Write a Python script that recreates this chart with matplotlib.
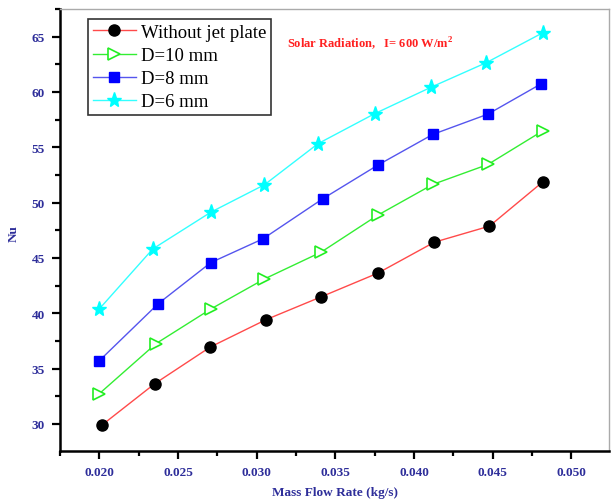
import matplotlib
matplotlib.use("Agg")
import matplotlib.pyplot as plt
from matplotlib.ticker import MultipleLocator, FormatStrFormatter

# Data
x_without = [0.0202, 0.02352, 0.02706, 0.0306, 0.0341, 0.0377, 0.0413, 0.0448, 0.0482]
nu_without = [29.94, 33.64, 36.96, 39.43, 41.49, 43.63, 46.43, 47.88, 51.89]
x_d10 = [0.0200, 0.0236, 0.0271, 0.0305, 0.0341, 0.0377, 0.0412, 0.0447, 0.0482]
nu_d10 = [32.74, 37.26, 40.40, 43.11, 45.53, 48.87, 51.65, 53.45, 56.50]
x_d8 = [0.0200, 0.02375, 0.02708, 0.0304, 0.0342, 0.0377, 0.0412, 0.0447, 0.0481]
nu_d8 = [35.72, 40.88, 44.58, 46.73, 50.35, 53.39, 56.17, 58.00, 60.75]
x_d6 = [0.0200, 0.0234, 0.0271, 0.0305, 0.0339, 0.0375, 0.0411, 0.0446, 0.0482]
nu_d6 = [40.40, 45.82, 49.15, 51.62, 55.33, 58.04, 60.44, 62.65, 65.36]

labels = ["Without jet plate", "D=10 mm", "D=8 mm", "D=6 mm"]
x_ticks = [0.020, 0.025, 0.030, 0.035, 0.040, 0.045, 0.050]
y_ticks = [30, 35, 40, 45, 50, 55, 60, 65]

plt.rcParams['font.family'] = ['Liberation Serif', 'DejaVu Serif']
plt.rcParams['mathtext.fontset'] = 'custom'
plt.rcParams['mathtext.rm'] = 'Liberation Serif'
plt.rcParams['mathtext.bf'] = 'Liberation Serif:bold'
navy = '#2e2e9a'

fig = plt.figure(figsize=(6.11, 5.02), dpi=100)
ax = fig.add_axes([60/611, 50/502, 549/611, 442/502])

ax.plot(x_without, nu_without, color='#ff4a4a', lw=1.0, marker='o', ms=8,
        mfc='black', mec='black', label=labels[0])
ax.plot(x_d10, nu_d10, color='#33ee33', lw=1.0, marker='>', ms=9,
        mfc='white', mec='#22ee22', mew=1.2, label=labels[1])
ax.plot(x_d8, nu_d8, color='#5555ee', lw=1.0, marker='s', ms=7,
        mfc='#0000ff', mec='#0000ff', label=labels[2])
ax.plot(x_d6, nu_d6, color='#33ffff', lw=1.0, marker='*', ms=11,
        mfc='#00ffff', mec='#00ffff', label=labels[3])

ax.set_xlim(0.0175, 0.0524)
ax.set_ylim(27.56, 67.5)
ax.set_xticks(x_ticks)
ax.set_yticks(y_ticks)
ax.xaxis.set_minor_locator(MultipleLocator(0.0025))
ax.yaxis.set_minor_locator(MultipleLocator(2.5))
ax.xaxis.set_major_formatter(FormatStrFormatter('%.3f'))

for s in ['left', 'bottom']:
    ax.spines[s].set_linewidth(1.8)
    ax.spines[s].set_color('black')
for s in ['top', 'right']:
    ax.spines[s].set_linewidth(1.0)
    ax.spines[s].set_color('#aaaaaa')

ax.tick_params(which='major', direction='out', length=6, width=1.6,
               labelsize=9.5, labelcolor=navy, top=False, right=False, pad=5)
ax.tick_params(which='minor', direction='out', length=3.5, width=1.6,
               top=False, right=False)
for lab in ax.get_xticklabels() + ax.get_yticklabels():
    lab.set_fontweight('bold')

ax.set_xlabel("Mass Flow Rate (kg/s)", fontsize=9.5, fontweight='bold', color=navy)
ax.set_ylabel("Nu", fontsize=9.5, fontweight='bold', color=navy)
ax.xaxis.set_label_coords(0.501, -0.08)
ax.yaxis.set_label_coords(-0.073, 0.495)

ax.text(0.03195, 64.5, "Solar Radiation,   I= 600 W/m$^{\\mathbf{2}}$", color='#ff2020',
        fontsize=9, fontweight='bold', va='center', ha='left')

leg = ax.legend(loc='upper left', bbox_to_anchor=(0.051, 0.977), fontsize=13.5,
                frameon=True, fancybox=False, edgecolor='black',
                handlelength=2.3, handletextpad=0.3, borderpad=0.25,
                labelspacing=0.32, borderaxespad=0.0)
leg.get_frame().set_linewidth(1.2)

fig.savefig("out.png", dpi=100)
